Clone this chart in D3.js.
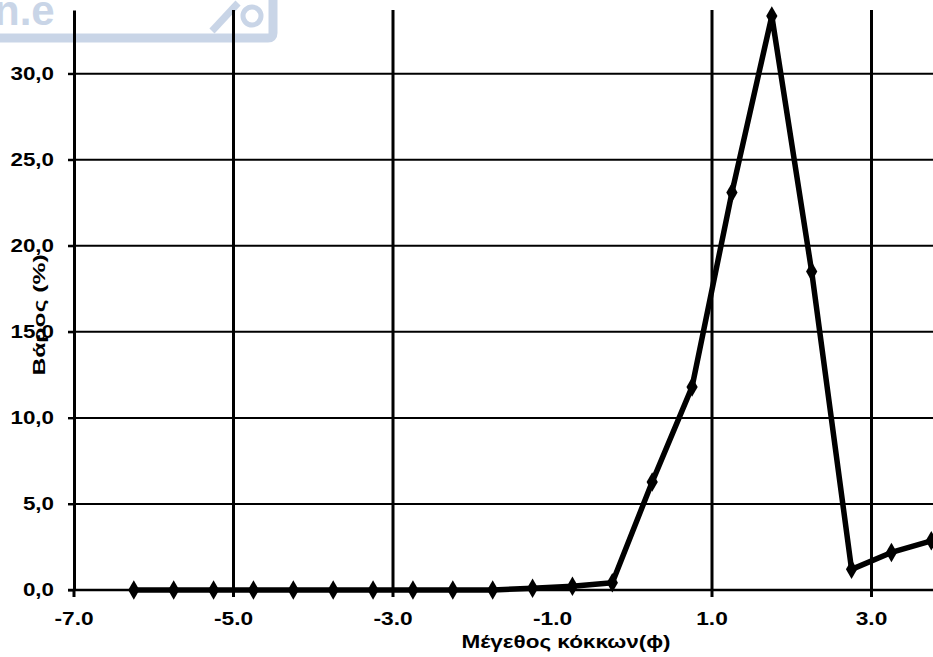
<!DOCTYPE html>
<html>
<head>
<meta charset="utf-8">
<script src="https://cdn.jsdelivr.net/npm/d3@7"></script>
<style>
  body { margin: 0; background: #fff; }
  text { font-family: "Liberation Sans", Arial, sans-serif; font-weight: bold; }
</style>
</head>
<body>
<svg id="chart"></svg>
<script>
// grain size (phi) vs weight %
var phiValues = [-6.25, -5.75, -5.25, -4.75, -4.25, -3.75, -3.25, -2.75, -2.25, -1.75,
                 -1.25, -0.75, -0.25, 0.25, 0.75, 1.25, 1.75, 2.25, 2.75, 3.25, 3.75];
var weightValues = [0.0, 0.0, 0.0, 0.0, 0.0, 0.0, 0.0, 0.0, 0.0, 0.0,
                    0.1, 0.22, 0.42, 6.28, 11.8, 23.1, 33.35, 18.5, 1.2, 2.18, 2.86];

var xTickValues = [-7, -5, -3, -1, 1, 3];
var xGridValues = [-5, -3, 1, 3];   // no line at -1 in the original
var yTickValues = [0, 5, 10, 15, 20, 25, 30];

var xTitle = 'Μέγεθος κόκκων(ϕ)';
var yTitle = 'Βάρος  (%)';

var width = 933;
var height = 657;
var plotLeft = 74;
var plotBottom = 590;
var plotTop = 10;

var data = phiValues.map((p, i) => ({ x: p, y: weightValues[i] }));

var svg = d3.select('#chart')
    .attr('width', width)
    .attr('height', height);

var xScale = d3.scaleLinear()
    .domain([-7, 4])
    .range([plotLeft, plotLeft + 11 * 79.75]);

var yScale = d3.scaleLinear()
    .domain([0, 33.7])
    .range([plotBottom, plotTop]);

var commaFmt = d => d.toFixed(1).replace('.', ',');

// watermark leftovers at the top
var wm = svg.append('g').attr('fill', 'none').attr('stroke', '#c9d5e7');
wm.append('path')
    .attr('d', 'M-10,38 L268,38 Q273,38 273,33 L273,-10')
    .attr('stroke-width', 9);
wm.append('path')
    .attr('d', 'M212,31 L238,3')
    .attr('stroke-width', 7);
wm.append('circle')
    .attr('cx', 252).attr('cy', 16).attr('r', 9)
    .attr('stroke-width', 5);
svg.append('text')
    .attr('x', -6)
    .attr('y', 25)
    .attr('fill', '#c9d5e7')
    .style('font-size', '42px')
    .text('n.e');

// horizontal grid lines
svg.append('g')
  .selectAll('line')
    .data(yTickValues)
    .enter()
    .append('line')
      .attr('x1', plotLeft - 6)
      .attr('x2', width)
      .attr('y1', d => yScale(d))
      .attr('y2', d => yScale(d))
      .attr('stroke', '#000')
      .attr('stroke-width', d => d === 0 ? 2.5 : 2);

// vertical grid lines
svg.append('g')
  .selectAll('line')
    .data(xGridValues)
    .enter()
    .append('line')
      .attr('x1', d => xScale(d))
      .attr('x2', d => xScale(d))
      .attr('y1', plotTop)
      .attr('y2', plotBottom + 7)
      .attr('stroke', '#000')
      .attr('stroke-width', 3);

// y axis
var yAxis = d3.axisLeft(yScale)
    .tickValues(yTickValues)
    .tickFormat(commaFmt)
    .tickSize(6)
    .tickSizeOuter(0);

var yg = svg.append('g')
    .attr('transform', `translate(${plotLeft},0)`)
    .call(yAxis);
yg.select('.domain').attr('stroke', '#000').attr('stroke-width', 3);
yg.selectAll('.tick line').attr('stroke', '#000').attr('stroke-width', 2);
yg.selectAll('.tick text')
    .attr('fill', '#000')
    .style('font-size', '17.5px')
    .attr('transform', 'scale(1.28,1)')
    .attr('x', -20 / 1.28);

// x axis labels + tick at -7
svg.append('line')
    .attr('x1', plotLeft).attr('x2', plotLeft)
    .attr('y1', plotBottom).attr('y2', plotBottom + 7)
    .attr('stroke', '#000').attr('stroke-width', 3);

svg.append('g')
  .selectAll('text')
    .data(xTickValues)
    .enter()
    .append('text')
      .attr('transform', d => `translate(${xScale(d)},${plotBottom + 35}) scale(1.3,1)`)
      .style('text-anchor', 'middle')
      .style('font-size', '17.5px')
      .text(d => d.toFixed(1));

// data line + diamond markers
svg.append('path')
    .datum(data)
    .attr('fill', 'none')
    .attr('stroke', '#000')
    .attr('stroke-width', 5.5)
    .attr('stroke-linejoin', 'round')
    .attr('d', d3.line().x(d => xScale(d.x)).y(d => yScale(d.y)));

svg.append('g')
  .selectAll('path')
    .data(data)
    .enter()
    .append('path')
      .attr('transform', d => `translate(${xScale(d.x)},${yScale(d.y)})`)
      .attr('d', d3.symbol().type(d3.symbolDiamond).size(110))
      .attr('fill', '#000');

// axis titles
svg.append('text')
    .attr('transform', 'translate(566,648) scale(1.25,1)')
    .style('text-anchor', 'middle')
    .style('font-size', '18px')
    .text(xTitle);

svg.append('text')
    .attr('transform', 'translate(45,315) rotate(-90) scale(1.45,1)')
    .style('text-anchor', 'middle')
    .style('font-size', '17px')
    .text(yTitle);
</script>
</body>
</html>
